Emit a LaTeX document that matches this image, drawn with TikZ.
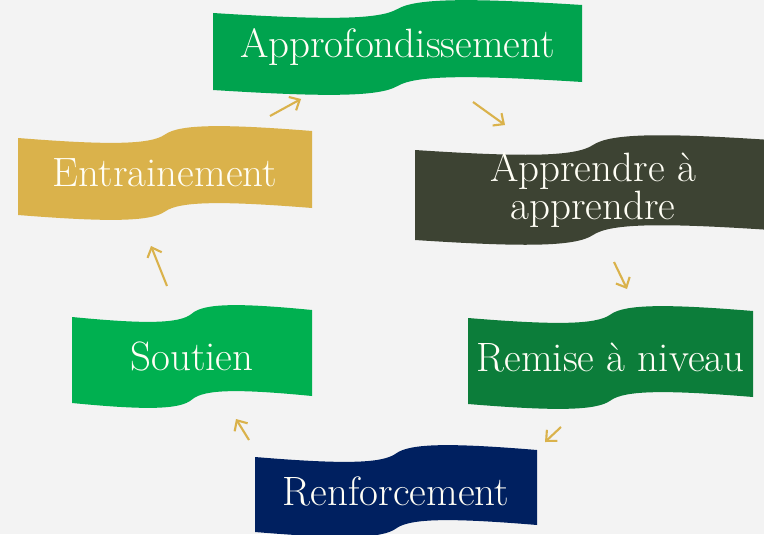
\documentclass[tikz,border=0pt]{standalone}
\usepackage{tikz}
\usetikzlibrary{arrows.meta}
\definecolor{approgreen}{RGB}{0,163,78}
\definecolor{apprdark}{RGB}{61,67,51}
\definecolor{remisegreen}{RGB}{12,125,58}
\definecolor{renfblue}{RGB}{0,32,96}
\definecolor{soutgreen}{RGB}{0,176,80}
\definecolor{entrgold}{RGB}{218,178,75}
\definecolor{paper}{RGB}{243,243,243}
\newcommand{\wavebox}[8]{
  \pgfmathsetmacro{\wvL}{#3}
  \pgfmathsetmacro{\wvR}{#4}
  \pgfmathsetmacro{\wvM}{(#3+#4)/2}
  \pgfmathsetmacro{\wvW}{#4-#3}
  \pgfmathsetmacro{\wvA}{#5}
  \pgfmathsetmacro{\wvB}{#6}
  \pgfmathsetmacro{\wvC}{(#5+#6)/2}
  \fill[#2] (\wvL,\wvA)
    .. controls (\wvL+0.3*\wvW,\wvA+7) and (\wvM-0.05*\wvW,\wvA+7) .. (\wvM,\wvC)
    .. controls (\wvM+0.05*\wvW,\wvB-7) and (\wvR-0.3*\wvW,\wvB-7) .. (\wvR,\wvB)
    -- (\wvR,\wvB+#7)
    .. controls (\wvR-0.3*\wvW,\wvB+#7-7) and (\wvM+0.05*\wvW,\wvB+#7-7) .. (\wvM,\wvC+#7)
    .. controls (\wvM-0.05*\wvW,\wvA+#7+7) and (\wvL+0.3*\wvW,\wvA+#7+7) .. (\wvL,\wvA+#7)
    -- cycle;
  \node[wavetext] (#1) at (\wvM,\wvC+#7/2) {#8};
}
\tikzset{wavetext/.style = {text=white!96!yellow, align=center, inner sep=0pt,
                            font=\fontsize{35}{28}\selectfont},
         cyclearrow/.style = {draw=entrgold, line width=1.8pt,
                              -{Straight Barb[length=7pt,width=13pt]}}}

\begin{document}
\begin{tikzpicture}[x=0.03cm,y=-0.03cm]
	\fill[paper] (0,0) rectangle (764,534);
	\useasboundingbox (0,0) rectangle (764,534);
	\wavebox{appro}{approgreen}{213}{582}{13}{5}{77}{Approfondissement}
	\wavebox{apprendre}{apprdark}{415}{771}{150}{140}{90}{Apprendre à\\apprendre}
	\wavebox{remise}{remisegreen}{468}{753}{318}{311}{86}{Remise à niveau}
	\wavebox{renfo}{renfblue}{255}{537}{457}{450}{75}{Renforcement}
	\wavebox{soutien}{soutgreen}{72}{312}{317}{310}{86}{Soutien}
	\wavebox{entrai}{entrgold}{18}{312}{138}{131}{77}{Entrainement}
	\coordinate (a1s) at (270,116); \coordinate (a1e) at (301,99);
	\coordinate (a2s) at (473,102); \coordinate (a2e) at (505,125);
	\coordinate (a3s) at (614,262); \coordinate (a3e) at (627,289);
	\coordinate (a4s) at (561,427); \coordinate (a4e) at (545,442);
	\coordinate (a5s) at (249,440); \coordinate (a5e) at (236,419);
	\coordinate (a6s) at (167,286); \coordinate (a6e) at (151,246);
	\draw[cyclearrow] (a1s) -- (a1e);
	\draw[cyclearrow] (a2s) -- (a2e);
	\draw[cyclearrow] (a3s) -- (a3e);
	\draw[cyclearrow] (a4s) -- (a4e);
	\draw[cyclearrow] (a5s) -- (a5e);
	\draw[cyclearrow] (a6s) -- (a6e);
\end{tikzpicture}
\end{document}
